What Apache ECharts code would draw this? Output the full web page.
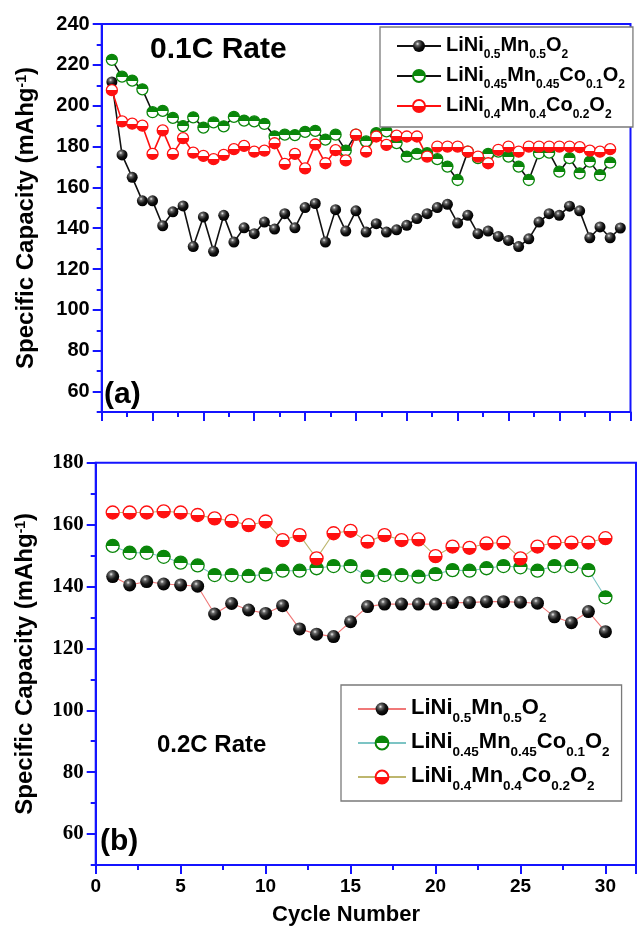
<!DOCTYPE html>
<html>
<head>
<meta charset="utf-8">
<script src="https://cdn.jsdelivr.net/npm/echarts@6/dist/echarts.min.js"></script>
<style>
html, body { margin: 0; padding: 0; background: #fff; }
#chart { width: 639px; height: 927px; }
</style>
</head>
<body>
<div id="chart"></div>
<script>
// (a) 0.1C rate
const cyclesA = [1,2,3,4,5,6,7,8,9,10,11,12,13,14,15,16,17,18,19,20,21,22,23,24,25,26,27,28,29,30,31,32,33,34,35,36,37,38,39,40,41,42,43,44,45,46,47,48,49,50,51];
const ni5A = [211.6,175.9,164.9,153.4,153.4,141.2,148,150.9,131,145.5,128.7,146.3,133.2,140.2,137.3,143,139.6,147.1,140.2,150.1,152.1,133.2,149.1,138.6,148.5,138.1,142.2,138.1,139.2,141.4,144.7,147.1,150.1,151.7,142.5,146.3,137.3,138.6,136,134,131,134.8,143,147.1,146.3,150.8,148.5,135.3,140.6,135.3,140.1];
const co1A = [222.4,214.2,212.3,208,196.8,197.5,194,190,194.3,189.3,191.8,189.9,194.5,192.7,192.3,191.1,185,185.8,185.6,187.2,187.7,183.4,185.8,178,185.8,182.5,186.6,187.4,181.7,175.1,176.4,176.7,173.8,170.2,163.6,177.5,174.3,176.4,177.5,175.1,170.2,163.6,176.7,177,167.7,174.3,166.9,172.6,166,172.1];
const co2A = [207.6,192.3,191.2,190.2,176.4,187.9,176.4,184.1,177,175.4,173.8,175.9,178.7,180.3,177.5,178,181.6,171.5,176.4,169.3,181,171.8,178.2,173.2,185.8,177.5,184.9,180.8,185.3,184.9,184.9,175.1,180,180,180,177.5,175.1,171.8,178.4,180,177.5,180,180,180,180,180,179.7,178,177.5,178.7];
const yTicksA = [60,80,100,120,140,160,180,200,220,240];

// (b) 0.2C rate
const cyclesB = [1,2,3,4,5,6,7,8,9,10,11,12,13,14,15,16,17,18,19,20,21,22,23,24,25,26,27,28,29,30];
const ni5B = [143.2,140.5,141.6,140.8,140.5,140.1,131.1,134.5,132.4,131.3,133.8,126.3,124.6,123.8,128.6,133.5,134.3,134.3,134.3,134.3,134.8,134.8,135.1,135.1,134.9,134.6,130.2,128.3,131.9,125.4];
const co1B = [153.1,150.9,150.9,149.6,147.7,146.8,143.7,143.7,143.4,143.9,145.1,145.1,145.9,146.6,146.6,143.2,143.7,143.7,143.2,144,145.3,145.1,145.9,146.6,146.2,145.1,146.6,146.6,145.3,136.5];
const co2B = [163.9,163.9,163.9,164.3,163.9,163.1,162,161.2,159.8,161,155,156.6,149.1,157.2,158,154.5,156.6,155,155.2,149.8,152.9,152.5,153.9,154.2,149.1,152.9,154.2,154.2,154.2,155.6];
const yTicksB = [60,80,100,120,140,160,180];

// 범례 (아래첨자 포함)
const formulas = [
	'{m|LiNi}{s|0.5}{m|Mn}{s|0.5}{m|O}{s|2}',
	'{m|LiNi}{s|0.45}{m|Mn}{s|0.45}{m|Co}{s|0.1}{m|O}{s|2}',
	'{m|LiNi}{s|0.4}{m|Mn}{s|0.4}{m|Co}{s|0.2}{m|O}{s|2}'
];

const BLUE = '#1414ff';
const SANS = '"Liberation Sans", Arial, sans-serif';
const SERIF = '"Liberation Serif", "Times New Roman", serif';

function pairs(xs, ys) {
	return ys.map((v, i) => [xs[i], v]);
}

const ball = new echarts.graphic.RadialGradient(0.38, 0.32, 0.65, [
	{ offset: 0, color: '#f2f2f2' },
	{ offset: 0.22, color: '#6a6a6a' },
	{ offset: 0.6, color: '#161616' },
	{ offset: 1, color: '#000' }
]);
const greenHalf = new echarts.graphic.LinearGradient(0, 0, 0, 1, [
	{ offset: 0, color: '#0a860a' },
	{ offset: 0.5, color: '#0a860a' },
	{ offset: 0.5, color: '#fff' },
	{ offset: 1, color: '#fff' }
]);
const redHalf = new echarts.graphic.LinearGradient(0, 0, 0, 1, [
	{ offset: 0, color: '#fff' },
	{ offset: 0.5, color: '#fff' },
	{ offset: 0.5, color: '#ff1010' },
	{ offset: 1, color: '#ff1010' }
]);

function lineSeries(name, xi, yi, data, fill, border, lineColor, size) {
	return {
		name: name,
		type: 'line',
		xAxisIndex: xi,
		yAxisIndex: yi,
		data: data,
		symbol: 'circle',
		symbolSize: size,
		itemStyle: { color: fill, borderColor: border, borderWidth: border ? 1.3 : 0 },
		lineStyle: { color: lineColor, width: xi == 0 ? 1.6 : 1.1 },
		emphasis: { disabled: true },
		animation: false
	};
}

function xAxisOf(grid, max, showLabel) {
	return {
		type: 'value', gridIndex: grid, min: 0, max: max, interval: 5,
		axisLine: { lineStyle: { color: BLUE, width: 2 } },
		axisTick: { length: 9, lineStyle: { color: BLUE, width: 2 } },
		minorTick: { show: true, splitNumber: 2, length: 5, lineStyle: { color: BLUE, width: 2 } },
		splitLine: { show: false },
		axisLabel: {
			show: showLabel, margin: 12, color: '#000',
			fontFamily: SANS, fontWeight: 'bold', fontSize: 19,
			formatter: (v) => (v % 5 === 0 ? v : '')
		}
	};
}

// y축: 짧은 눈금(10 간격) + 긴 눈금/라벨(20 간격)
function yAxesOf(grid, max, ticks, font, size, gap) {
	return [
		{
			type: 'value', gridIndex: grid, position: 'left', min: 50, max: max, interval: 10,
			axisLine: { show: true, lineStyle: { color: BLUE, width: 2 } },
			axisTick: { show: true, length: 5, lineStyle: { color: BLUE, width: 2 } },
			axisLabel: { show: false },
			splitLine: { show: false }
		},
		{
			type: 'value', gridIndex: grid, position: 'left', offset: 0, min: 50, max: max,
			axisLine: { show: false },
			axisTick: { show: true, customValues: ticks, length: 9, lineStyle: { color: BLUE, width: 2 } },
			axisLabel: {
				customValues: ticks, margin: 12, color: '#000',
				fontFamily: font, fontWeight: 'bold', fontSize: size
			},
			splitLine: { show: false },
			name: '{t|Specific Capacity (mAhg}{p|-1}{t|)}',
			nameLocation: 'middle',
			nameGap: gap,
			nameTextStyle: {
				rich: {
					t: { fontFamily: SANS, fontWeight: 'bold', fontSize: 24, lineHeight: 27, verticalAlign: 'top', color: '#000' },
					p: { fontFamily: SANS, fontWeight: 'bold', fontSize: 14, lineHeight: 14, verticalAlign: 'top', color: '#000' }
				}
			}
		}
	];
}

function legendOf(names, left, top, pad, iw, ih, gap, main, sub, drop) {
	return {
		data: names,
		orient: 'vertical',
		left: left, top: top,
		padding: pad,
		itemWidth: iw, itemHeight: ih, itemGap: gap,
		borderColor: '#7a7a7a', borderWidth: 1.3,
		backgroundColor: '#fff',
		selectedMode: false,
		formatter: (name) => formulas[Number(name.slice(-1))],
		textStyle: {
			rich: {
				m: { fontFamily: SANS, fontWeight: 'bold', fontSize: main, lineHeight: main + 2, verticalAlign: 'top', color: '#000' },
				s: { fontFamily: SANS, fontWeight: 'bold', fontSize: sub, lineHeight: sub, verticalAlign: 'top', padding: [drop, 0, 0, 0], color: '#000' }
			}
		}
	};
}

function label(text, x, y, size, align) {
	return {
		type: 'text',
		silent: true,
		style: {
			text: text, x: x, y: y,
			font: 'bold ' + size + 'px ' + SANS,
			fill: '#000',
			align: align || 'left',
			verticalAlign: 'middle'
		}
	};
}

const myChart = echarts.init(document.getElementById('chart'), null, { renderer: 'canvas' });

const option = {
	backgroundColor: '#fff',
	animation: false,
	grid: [
		{ left: 101.7, top: 24, width: 528.8, height: 388, show: true, borderColor: BLUE, borderWidth: 2, backgroundColor: 'transparent' },
		{ left: 95.7, top: 462.7, width: 541.6, height: 402.3, show: true, borderColor: BLUE, borderWidth: 2, backgroundColor: 'transparent' }
	],
	xAxis: [
		xAxisOf(0, 52, false),
		xAxisOf(1, 31.8, true)
	],
	yAxis: [].concat(
		yAxesOf(0, 240, yTicksA, SANS, 20, 60),
		yAxesOf(1, 180, yTicksB, SERIF, 21, 55)
	),
	legend: [
		legendOf(['a0', 'a1', 'a2'], 380, 27, [8, 8, 6, 16], 44, 15, 4, 20, 12, 14),
		legendOf(['b0', 'b1', 'b2'], 341, 685, [12, 12, 8, 16], 48, 16, 6, 22, 13.5, 14)
	],
	series: [
		lineSeries('a0', 0, 0, pairs(cyclesA, ni5A), ball, null, '#111', 11),
		lineSeries('a1', 0, 0, pairs(cyclesA, co1A), greenHalf, '#0a860a', '#111', 11),
		lineSeries('a2', 0, 0, pairs(cyclesA, co2A), redHalf, '#ff1010', '#ff1010', 11),
		lineSeries('b0', 1, 2, pairs(cyclesB, ni5B), ball, null, '#f07878', 13),
		lineSeries('b1', 1, 2, pairs(cyclesB, co1B), greenHalf, '#0a860a', '#7cc4c4', 13),
		lineSeries('b2', 1, 2, pairs(cyclesB, co2B), redHalf, '#ff1010', '#bdb66e', 13)
	],
	graphic: [
		label('0.1C Rate', 150, 50, 30),
		label('(a)', 104, 395, 30),
		label('0.2C Rate', 157, 745, 24),
		label('(b)', 100, 842, 30),
		label('Cycle Number', 346, 915, 22, 'center')
	]
};

myChart.setOption(option);
</script>
</body>
</html>
